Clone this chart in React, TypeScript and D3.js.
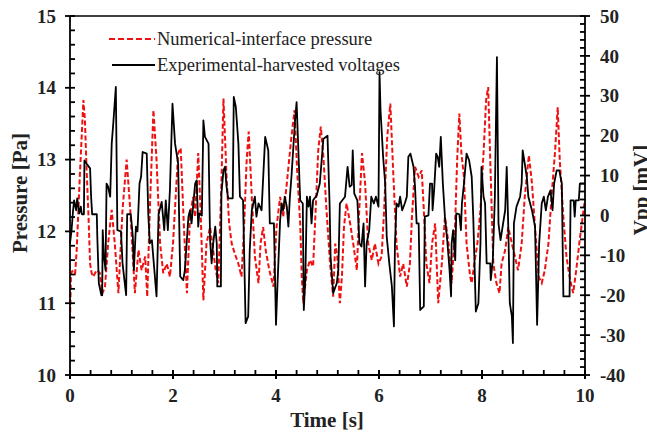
import React, { useEffect, useRef } from "react";
import * as d3 from "d3";

// Numerical-interface pressure [Pa]
const pressureTime = [
  0, 0.02, 0.06, 0.1, 0.13, 0.19, 0.26, 0.29, 0.32, 0.36, 0.39, 0.42, 0.45, 0.52, 0.58, 0.63, 0.68, 0.74, 0.81, 0.87,
  0.94, 1.02, 1.1, 1.17, 1.26, 1.33, 1.39, 1.46, 1.5, 1.55, 1.62, 1.68, 1.75, 1.81, 1.88, 1.94, 2.0, 2.1, 2.15, 2.21,
  2.27, 2.33, 2.39, 2.43, 2.49, 2.54, 2.59, 2.65, 2.72, 2.78, 2.83, 2.88, 2.94, 2.98, 3.04, 3.09, 3.14, 3.2, 3.27, 3.33,
  3.38, 3.43, 3.47, 3.53, 3.59, 3.66, 3.7, 3.75, 3.8, 3.87, 3.95, 4.01, 4.08, 4.14, 4.21, 4.3, 4.36, 4.41, 4.47, 4.5,
  4.53, 4.6, 4.66, 4.72, 4.77, 4.82, 4.87, 4.92, 4.98, 5.05, 5.11, 5.15, 5.19, 5.24, 5.28, 5.32, 5.37, 5.44, 5.5, 5.57,
  5.61, 5.67, 5.73, 5.79, 5.86, 5.92, 5.99, 6.05, 6.1, 6.16, 6.22, 6.28, 6.34, 6.41, 6.47, 6.54, 6.6, 6.64, 6.7, 6.77,
  6.83, 6.87, 6.92, 6.98, 7.03, 7.09, 7.15, 7.22, 7.28, 7.35, 7.41, 7.47, 7.52, 7.56, 7.6, 7.65, 7.7, 7.77, 7.8, 7.85,
  7.91, 7.97, 8.04, 8.08, 8.12, 8.16, 8.22, 8.28, 8.34, 8.38, 8.45, 8.51, 8.58, 8.64, 8.7, 8.77, 8.83, 8.91, 8.97, 9.03,
  9.1, 9.16, 9.22, 9.29, 9.35, 9.42, 9.47, 9.51, 9.58, 9.64, 9.7, 9.77, 9.83, 9.9, 10.0,
];
const pressureValues = [
  10.77, 11.42, 11.46, 11.42, 11.74, 12.76, 13.83, 13.55, 12.9, 12.2, 11.55, 11.42, 11.37, 11.46, 11.42, 11.14, 11.23, 11.83, 12.3, 11.83,
  11.14, 12.3, 13.0, 12.3, 11.14, 11.74, 11.46, 11.65, 11.09, 12.3, 13.69, 13.0, 11.83, 11.42, 11.55, 11.37, 11.83, 13.09, 13.16, 12.1,
  11.14, 12.2, 12.48, 12.2, 13.09, 12.2, 11.04, 11.83, 12.06, 11.74, 11.46, 11.28, 12.67, 13.85, 12.76, 12.11, 11.83, 11.69, 11.55, 11.37,
  12.06, 12.99, 13.39, 12.48, 11.65, 11.28, 11.83, 12.06, 11.74, 11.46, 11.23, 12.06, 12.48, 12.2, 12.67, 13.32, 13.69, 12.85, 12.11, 11.37,
  11.0, 11.46, 11.6, 11.51, 12.3, 13.13, 13.46, 13.04, 12.3, 11.55, 11.09, 11.83, 11.65, 11.0, 11.37, 12.06, 12.39, 12.11, 11.83, 11.46,
  12.2, 13.09, 12.67, 11.83, 11.6, 11.83, 11.55, 11.65, 12.3, 13.32, 13.78, 12.76, 11.83, 11.37, 11.55, 11.23, 11.55, 12.2, 12.9, 12.76,
  12.85, 12.3, 11.55, 11.28, 11.83, 12.11, 11.0, 11.55, 12.2, 11.83, 11.28, 11.93, 13.04, 13.64, 13.09, 12.76, 11.83, 11.37, 11.28, 11.55,
  11.83, 12.3, 13.23, 13.83, 14.01, 12.99, 11.55, 11.28, 11.14, 11.55, 11.74, 12.06, 11.83, 11.65, 11.46, 11.83, 12.48, 13.06, 12.67, 12.06,
  11.37, 11.28, 11.46, 11.83, 12.48, 13.13, 13.73, 12.99, 12.2, 11.65, 11.37, 11.14, 11.46, 11.9, 12.45,
];

// Experimental-harvested voltages [mV]
const voltageTime = [
  0, 0.03, 0.06, 0.08, 0.12, 0.14, 0.18, 0.21, 0.23, 0.27, 0.28, 0.32, 0.39, 0.41, 0.43, 0.52, 0.53, 0.56, 0.61, 0.625,
  0.635, 0.66, 0.69, 0.71, 0.74, 0.78, 0.81, 0.84, 0.89, 0.92, 0.99, 1.02, 1.09, 1.11, 1.18, 1.22, 1.24, 1.28, 1.31, 1.35,
  1.38, 1.41, 1.49, 1.52, 1.55, 1.59, 1.68, 1.72, 1.78, 1.83, 1.86, 1.9, 1.94, 1.99, 2.04, 2.1, 2.14, 2.2, 2.23, 2.3,
  2.33, 2.36, 2.39, 2.43, 2.46, 2.49, 2.51, 2.56, 2.59, 2.62, 2.69, 2.72, 2.75, 2.78, 2.82, 2.85, 2.86, 2.93, 2.94, 2.98,
  3.01, 3.04, 3.07, 3.16, 3.18, 3.22, 3.27, 3.3, 3.36, 3.41, 3.46, 3.49, 3.53, 3.56, 3.59, 3.62, 3.66, 3.72, 3.79, 3.85,
  3.88, 3.96, 4.0, 4.03, 4.08, 4.11, 4.14, 4.17, 4.21, 4.24, 4.27, 4.3, 4.37, 4.4, 4.47, 4.52, 4.54, 4.57, 4.6, 4.63,
  4.66, 4.69, 4.72, 4.79, 4.85, 4.92, 5.0, 5.04, 5.06, 5.11, 5.18, 5.21, 5.24, 5.34, 5.39, 5.43, 5.47, 5.49, 5.52, 5.58,
  5.62, 5.66, 5.7, 5.73, 5.76, 5.81, 5.85, 5.9, 5.94, 5.99, 6.01, 6.03, 6.08, 6.12, 6.15, 6.2, 6.25, 6.29, 6.31, 6.34,
  6.38, 6.41, 6.45, 6.5, 6.54, 6.57, 6.61, 6.67, 6.7, 6.73, 6.77, 6.8, 6.87, 6.89, 6.96, 6.99, 7.03, 7.04, 7.07, 7.11,
  7.14, 7.17, 7.2, 7.24, 7.28, 7.33, 7.37, 7.4, 7.41, 7.44, 7.48, 7.5, 7.56, 7.59, 7.61, 7.65, 7.7, 7.75, 7.8, 7.83,
  7.88, 7.93, 7.97, 7.99, 8.03, 8.06, 8.09, 8.16, 8.17, 8.21, 8.25, 8.29, 8.32, 8.36, 8.41, 8.45, 8.48, 8.51, 8.54, 8.58,
  8.6, 8.62, 8.67, 8.74, 8.77, 8.79, 8.83, 8.87, 8.9, 8.97, 9.03, 9.07, 9.11, 9.16, 9.2, 9.24, 9.28, 9.33, 9.37, 9.4,
  9.45, 9.5, 9.55, 9.58, 9.7, 9.72, 9.78, 9.8, 9.82, 9.88, 9.9, 10.0,
];
const voltageValues = [
  -7, -3.7, 1.3, 3.8, 1.3, 4.3, 0.5, 2.2, 0.3, 0.3, 13.8, 13, 11.8, 4.7, 0.3, 0.3, -5.3, -17, -20, -20,
  -3.7, -10.3, -13.7, 8, 7.2, 4.7, 18, 23, 32.2, -3.7, -4, -12, -20, 0.3, 0.3, -5.3, -13.7, -2.8, -4, 8,
  9.7, 15.9, 15.5, 0.3, -7, -6.2, -20.3, 0.3, 3.4, -3.7, 3.8, -3.7, 6.3, 28, 18, 13, -15.3, -16.2, -13.7, -0.3,
  1.3, -2, 2.2, 8, 8.8, -2.8, 0.5, 0, 23.8, 19.7, 18, -6.2, -12, -7, -2.8, -7, -17.8, -17.8, 5.5, 11.3,
  12.2, 7.2, 4.3, 4.3, 29.7, 27.2, 18, 4.7, 3.8, -27, -25.3, -8.7, 1.3, 3, 4.7, -0.3, 3, 1.3, 19.7, 16.3,
  -2, -2, -27.4, -17, -1.2, 3, 1.3, 4.7, 2.2, -2.8, 4.7, 9.7, 23.8, 28.4, 3.8, 3, -23.7, -15.3, 4.7, 2.2,
  4.7, -2, 3.8, 5, 8, 19.2, 20, 3, -10.3, -19.5, -17, -13.7, 3, 4.7, 12.2, 7.2, 7.6, 16.3, 5.5, 3.8,
  -7, -7.8, -2, -17.8, -7, -3.7, 4.7, 3, 4.7, 2.2, 35.9, 26.3, 14.7, 8, -5.3, -12, -17.8, -27.8, -7, 3,
  2.2, 4.7, 1.3, 3, 4.7, 14.7, 15.5, 12.2, 7.2, -2, -2, -23.7, -22.8, -0.3, 0, 8, 8, 1.3, 6.3, 15.5,
  14.7, 12.2, 19.7, 8, -0.3, -7, -13.7, -20.3, -7, -3.7, -11.2, 0.5, 0.3, -3.7, 3, 8, 15.5, 13.8, 9.7, -0.3,
  -24.1, -22, -7, 12.2, 4.7, 3, -12, -12, -16.2, -11.2, 4.7, 39.7, -2, -6.2, -2, 1.3, 12.2, -2.8, -22, -25.3,
  -32, -2, 2.2, 4.7, 8, 16.3, 13, 9.7, 4.7, 1.3, -2.8, -27.4, -7, 3, 4.7, 1.3, 4.7, 6.3, 1.3, 8,
  11.3, 11.3, 8, -20.3, -20.3, 3.8, 3.8, -0.3, 3.8, 3.8, 8, 8,
];

const xTicks = [0, 2, 4, 6, 8, 10];
const pressureTicks = [10, 11, 12, 13, 14, 15];
const voltageTicks = [-40, -30, -20, -10, 0, 10, 20, 30, 40, 50];

const W = 647;
const H = 439;
const serif = "'Liberation Serif', 'Times New Roman', serif";

const App = () => {
  const ref = useRef<SVGSVGElement>(null);

  useEffect(() => {
    const svg = d3.select(ref.current);
    svg.selectAll("*").remove();

    const left = 70, right = 585, top = 16, bottom = 375;
    const x = d3.scaleLinear().domain([0, 10]).range([left, right]);
    const yP = d3.scaleLinear().domain([10, 15]).range([bottom, top]);
    const yV = d3.scaleLinear().domain([-40, 50]).range([bottom, top]);

    const pressure = pressureTime.map((t, i) => [t, pressureValues[i]]);
    const voltage = voltageTime.map((t, i) => [t, voltageValues[i]]);

    // series (red first, black on top)
    svg.append("path")
      .attr("d", d3.line().x((d) => x(d[0])).y((d) => yP(d[1]))(pressure))
      .attr("fill", "none").attr("stroke", "#f01010").attr("stroke-width", 2)
      .attr("stroke-dasharray", "5,2.5");

    svg.append("path")
      .attr("d", d3.line().x((d) => x(d[0])).y((d) => yV(d[1]))(voltage))
      .attr("fill", "none").attr("stroke", "#000").attr("stroke-width", 1.8)
      .attr("stroke-linejoin", "round");

    const axes = svg.append("g").attr("stroke", "#000").attr("stroke-width", 1.8);

    // frame: left, bottom, right, top
    axes.append("line").attr("x1", left).attr("x2", left).attr("y1", top).attr("y2", bottom);
    axes.append("line").attr("x1", left).attr("x2", right).attr("y1", bottom).attr("y2", bottom);
    axes.append("line").attr("x1", right).attr("x2", right).attr("y1", top).attr("y2", bottom);
    axes.append("line").attr("x1", left).attr("x2", right).attr("y1", top).attr("y2", top).attr("stroke-width", 1.5);

    // x ticks
    d3.range(0, 10.001, 0.4).forEach((v) => {
      const major = xTicks.some((t) => Math.abs(t - v) < 1e-6);
      axes.append("line").attr("x1", x(v)).attr("x2", x(v))
        .attr("y1", bottom - 5).attr("y2", major ? bottom + 4 : bottom);
    });
    xTicks.forEach((v) => {
      axes.append("line").attr("x1", x(v)).attr("x2", x(v)).attr("y1", bottom - 5).attr("y2", bottom + 4);
    });

    // left ticks
    d3.range(10, 15.001, 0.2).forEach((v) => {
      const major = pressureTicks.some((t) => Math.abs(t - v) < 1e-6);
      axes.append("line").attr("x1", major ? left - 5 : left).attr("x2", left + 5)
        .attr("y1", yP(v)).attr("y2", yP(v));
    });

    // right ticks
    d3.range(-40, 50.001, 2).forEach((v) => {
      const major = v % 10 === 0;
      axes.append("line").attr("x1", right - 5).attr("x2", major ? right + 5 : right)
        .attr("y1", yV(v)).attr("y2", yV(v));
    });

    const labels = svg.append("g").attr("font-family", serif).attr("font-weight", "bold")
      .attr("font-size", 19).attr("fill", "#222");

    xTicks.forEach((v) => {
      labels.append("text").attr("x", x(v)).attr("y", 402).attr("text-anchor", "middle").text(v);
    });
    pressureTicks.forEach((v) => {
      labels.append("text").attr("x", 56).attr("y", yP(v)).attr("dy", "0.35em")
        .attr("text-anchor", "end").text(v);
    });
    voltageTicks.forEach((v) => {
      labels.append("text").attr("x", 600).attr("y", yV(v)).attr("dy", "0.35em")
        .attr("text-anchor", "start").text(v);
    });

    // axis titles
    labels.append("text").attr("x", 327).attr("y", 427).attr("text-anchor", "middle")
      .attr("font-size", 21).text("Time  [s]");
    labels.append("text").attr("transform", "translate(27,193) rotate(-90)")
      .attr("text-anchor", "middle").attr("font-size", 21).text("Pressure  [Pa]");
    labels.append("text").attr("transform", "translate(648,190) rotate(-90)")
      .attr("text-anchor", "middle").attr("font-size", 21).text("Vpp  [mV]");

    // legend
    const legend = svg.append("g").attr("font-family", serif).attr("font-size", 18.5).attr("fill", "#222");
    legend.append("line").attr("x1", 109).attr("x2", 155).attr("y1", 39).attr("y2", 39)
      .attr("stroke", "#f01010").attr("stroke-width", 2).attr("stroke-dasharray", "6,3");
    legend.append("text").attr("x", 157).attr("y", 45).text("Numerical-interface pressure");
    legend.append("line").attr("x1", 112).attr("x2", 155).attr("y1", 65).attr("y2", 65)
      .attr("stroke", "#000").attr("stroke-width", 2);
    legend.append("text").attr("x", 157).attr("y", 71).text("Experimental-harvested voltages");
  }, []);

  return (
    <svg ref={ref} width={W} height={H}
      style={{ position: "absolute", left: 0, top: 0, background: "#fff" }} />
  );
};

export default App;
